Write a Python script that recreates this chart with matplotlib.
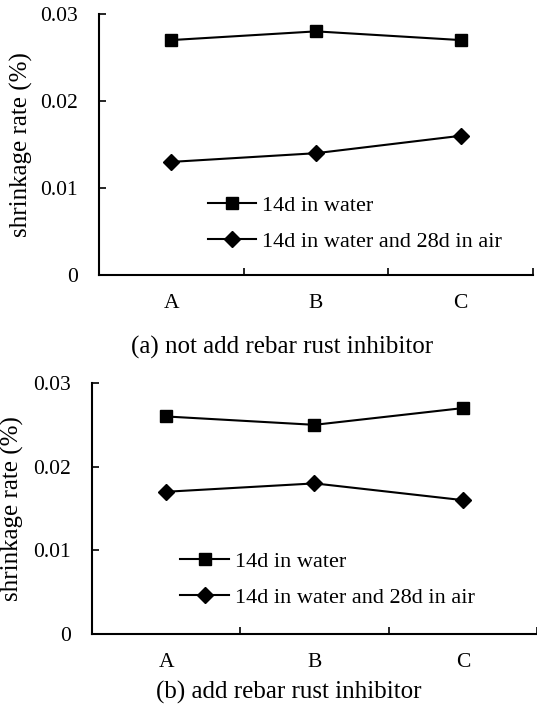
import matplotlib
matplotlib.use('agg')
import matplotlib.pyplot as plt

categories = ['A', 'B', 'C']
series_names = ['14d in water', '14d in water and 28d in air']
# (a) not add rebar rust inhibitor
water_a = [0.027, 0.028, 0.027]
air_a = [0.013, 0.014, 0.016]
# (b) add rebar rust inhibitor
water_b = [0.026, 0.025, 0.027]
air_b = [0.017, 0.018, 0.016]
yticks = [0, 0.01, 0.02, 0.03]
ytick_labels = ['0', '0.01', '0.02', '0.03']

TICK_FS = 15.5
LEG_FS = 16
LABEL_FS = 18
plt.rcParams['font.family'] = ['Liberation Serif', 'DejaVu Serif']

fig = plt.figure(figsize=(5.37, 7.09), dpi=100)
ax_a = fig.add_axes([0.1844, 0.6121, 0.8082, 0.3682])
ax_b = fig.add_axes([0.1713, 0.1058, 0.8287, 0.3540])


def draw_panel(ax, water, air, legend_pos):
    x = list(range(1, len(categories) + 1))
    ax.plot(x, water, color='black', lw=1.5, marker='s', ms=8.5,
            label=series_names[0])
    ax.plot(x, air, color='black', lw=1.5, marker='D', ms=8,
            label=series_names[1])
    ax.set_xlim(0.5, len(categories) + 0.5)
    ax.set_ylim(0, 0.03)
    ax.set_yticks(yticks)
    ax.set_yticklabels(ytick_labels)
    ax.tick_params(axis='y', direction='in', length=5, width=1.2, pad=15,
                   labelsize=TICK_FS)
    # boundary ticks, category names on minor ticks
    ax.set_xticks([1.5, 2.5, 3.5])
    ax.set_xticklabels([])
    ax.tick_params(axis='x', which='major', direction='in', length=5,
                   width=1.2)
    ax.set_xticks(x, minor=True)
    ax.set_xticklabels(categories, minor=True)
    ax.tick_params(axis='x', which='minor', length=0, pad=14,
                   labelsize=TICK_FS)
    for s in ['top', 'right']:
        ax.spines[s].set_visible(False)
    for s in ['left', 'bottom']:
        ax.spines[s].set_linewidth(1.5)
    ax.set_ylabel('shrinkage rate (%)', fontsize=LABEL_FS)
    ax.yaxis.set_label_coords(-0.152, 0.5)
    ax.legend(loc='lower left', bbox_to_anchor=legend_pos, frameon=False,
              fontsize=LEG_FS, handlelength=2.2, handletextpad=0.27,
              labelspacing=0.7, borderaxespad=0, borderpad=0)


draw_panel(ax_a, water_a, air_a, (0.25, 0.088))
draw_panel(ax_b, water_b, air_b, (0.198, 0.105))

fig.text(0.525, 1 - 347 / 709, '(a) not add rebar rust inhibitor',
         ha='center', va='center', fontsize=LABEL_FS)
fig.text(0.538, 1 - 692 / 709, '(b) add rebar rust inhibitor',
         ha='center', va='center', fontsize=LABEL_FS)

fig.savefig('out.png', dpi=100)
